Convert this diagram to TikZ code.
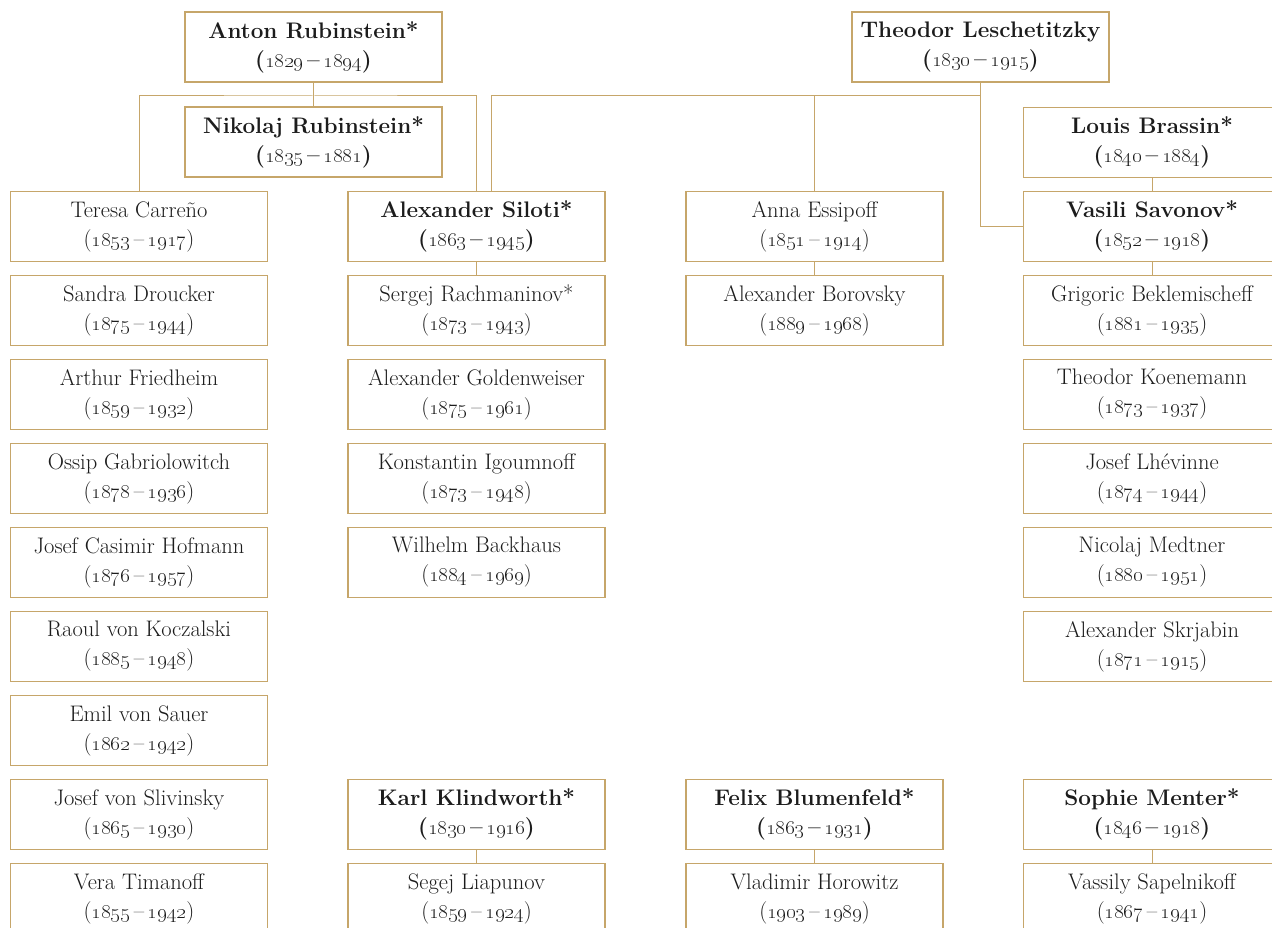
\documentclass[tikz,border=0pt]{standalone}
\usepackage{tikz}
\usepackage{xcolor}
\usetikzlibrary{positioning}
\definecolor{gold}{HTML}{C6A66A}
\definecolor{ink}{HTML}{1C1C1C}
\newcommand{\lived}[2]{(\oldstylenums{#1}\,--\,\oldstylenums{#2})}

\begin{document}
\begin{tikzpicture}[x=1pt, y=-1pt,
    pupil/.style={draw=gold, line width=1.1pt, fill=white, text=ink, minimum width=257pt,
        minimum height=70pt, align=center, inner sep=0pt, font=\fontsize{22.5}{29}\selectfont},
    master/.style={pupil, font=\fontsize{22.5}{29}\selectfont\bfseries},
    link/.style={draw=gold, line width=1pt}]
    \useasboundingbox[fill=white] (0,0) rectangle (1272,928);
    % teachers on top
    \node[master] (anton) at (313.5, 47) {Anton Rubinstein*\\\lived{1829}{1894}};
    \node[master] (nikolaj) at (313.5, 142) {Nikolaj Rubinstein*\\\lived{1835}{1881}};
    \node[master] (lesch) at (980.5, 47) {Theodor Leschetitzky\\\lived{1830}{1915}};
    % first column
    \node[pupil] (carreno) at (139, 226.5) {Teresa Carreño\\\lived{1853}{1917}};
    \node[pupil] (droucker) at (139, 310.5) {Sandra Droucker\\\lived{1875}{1944}};
    \node[pupil] (friedheim) at (139, 394.5) {Arthur Friedheim\\\lived{1859}{1932}};
    \node[pupil] (gabriolowitch) at (139, 478.5) {Ossip Gabriolowitch\\\lived{1878}{1936}};
    \node[pupil] (hofmann) at (139, 562.5) {Josef Casimir Hofmann\\\lived{1876}{1957}};
    \node[pupil] (koczalski) at (139, 646.5) {Raoul von Koczalski\\\lived{1885}{1948}};
    \node[pupil] (sauer) at (139, 730.5) {Emil von Sauer\\\lived{1862}{1942}};
    \node[pupil] (slivinsky) at (139, 814.5) {Josef von Slivinsky\\\lived{1865}{1930}};
    \node[pupil] (timanoff) at (139, 898.5) {Vera Timanoff\\\lived{1855}{1942}};
    % second column
    \node[master] (siloti) at (476.5, 226.5) {Alexander Siloti*\\\lived{1863}{1945}};
    \node[pupil] (rachmaninov) at (476.5, 310.5) {Sergej Rachmaninov*\\\lived{1873}{1943}};
    \node[pupil] (goldenweiser) at (476.5, 394.5) {Alexander Goldenweiser\\\lived{1875}{1961}};
    \node[pupil] (igoumnoff) at (476.5, 478.5) {Konstantin Igoumnoff\\\lived{1873}{1948}};
    \node[pupil] (backhaus) at (476.5, 562.5) {Wilhelm Backhaus\\\lived{1884}{1969}};
    \node[master] (klindworth) at (476.5, 814.5) {Karl Klindworth*\\\lived{1830}{1916}};
    \node[pupil] (liapunov) at (476.5, 898.5) {Segej Liapunov\\\lived{1859}{1924}};
    % third column
    \node[pupil] (essipoff) at (814.5, 226.5) {Anna Essipoff\\\lived{1851}{1914}};
    \node[pupil] (borovsky) at (814.5, 310.5) {Alexander Borovsky\\\lived{1889}{1968}};
    \node[master] (blumenfeld) at (814.5, 814.5) {Felix Blumenfeld*\\\lived{1863}{1931}};
    \node[pupil] (horowitz) at (814.5, 898.5) {Vladimir Horowitz\\\lived{1903}{1989}};
    % fourth column
    \node[master] (brassin) at (1152, 142.5) {Louis Brassin*\\\lived{1840}{1884}};
    \node[master] (savonov) at (1152, 226.5) {Vasili Savonov*\\\lived{1852}{1918}};
    \node[pupil] (beklemischeff) at (1152, 310.5) {Grigoric Beklemischeff\\\lived{1881}{1935}};
    \node[pupil] (koenemann) at (1152, 394.5) {Theodor Koenemann\\\lived{1873}{1937}};
    \node[pupil] (lhevinne) at (1152, 478.5) {Josef Lhévinne\\\lived{1874}{1944}};
    \node[pupil] (medtner) at (1152, 562.5) {Nicolaj Medtner\\\lived{1880}{1951}};
    \node[pupil] (skrjabin) at (1152, 646.5) {Alexander Skrjabin\\\lived{1871}{1915}};
    \node[master] (menter) at (1152, 814.5) {Sophie Menter*\\\lived{1846}{1918}};
    \node[pupil] (sapelnikoff) at (1152, 898.5) {Vassily Sapelnikoff\\\lived{1867}{1941}};
    % connectors
    \coordinate (rubrail) at (313.5, 96);
    \coordinate (leschrail) at (980.5, 96);
    \coordinate (siloti2) at (491, 191.5);
    \draw[link] (carreno.north) |- (rubrail) -| (siloti.north);
    \draw[link] (siloti2) |- (leschrail);
    \draw[link] (essipoff.north) -- (essipoff.north |- leschrail);
    \draw[link] (lesch.south) |- (savonov.west);
    \draw[link]
    (anton) edge (nikolaj)
    (siloti) edge (rachmaninov)
    (essipoff) edge (borovsky)
    (brassin) edge (savonov)
    (savonov) edge (beklemischeff)
    (klindworth) edge (liapunov)
    (blumenfeld) edge (horowitz)
    (menter) edge (sapelnikoff);
\end{tikzpicture}
\end{document}
